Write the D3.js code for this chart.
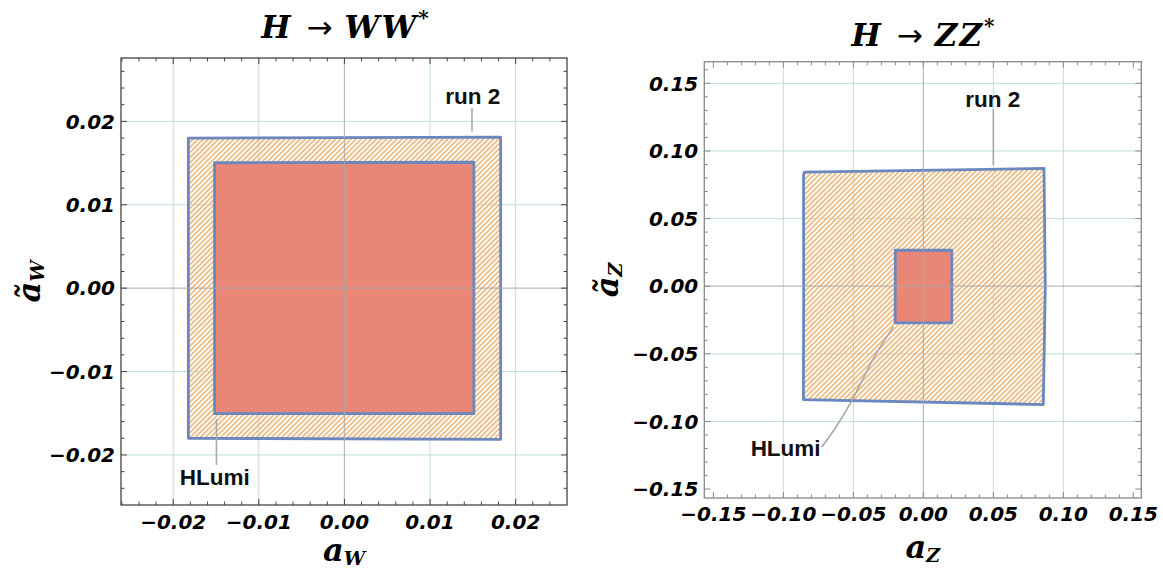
<!DOCTYPE html>
<html lang="en">
<head>
<meta charset="UTF-8">
<title>H to WW* / ZZ* bounds</title>
<script src="https://d3js.org/d3.v7.min.js"></script>
<style>
  body { margin: 0; background: #fff; }
  .tick-label { font-family: "DejaVu Sans", sans-serif; font-weight: bold; font-style: italic; font-size: 20px; fill: #000; }
  .note { font-family: "Liberation Sans", Arial, sans-serif; font-weight: bold; font-size: 22.5px; fill: #111; }
  .math { font-family: "DejaVu Serif", serif; font-weight: bold; font-style: italic; fill: #000; }
</style>
</head>
<body>
<svg id="chart" width="1163" height="573"></svg>
<script>
// ---- data ----
// H -> WW* panel
const wwTicks = [-0.02, -0.01, 0.00, 0.01, 0.02];
const wwTickLabels = ["\u22120.02", "\u22120.01", "0.00", "0.01", "0.02"];
const wwGrid = [-0.02, -0.01, 0.01, 0.02];
const wwRun2 = [[-0.01823, 0.01800], [0.01825, 0.01812], [0.01825, -0.01812], [-0.01823, -0.01800]];
const wwHLumi = [[-0.01517, 0.01504], [0.01512, 0.01510], [0.01512, -0.01505], [-0.01517, -0.01505]];
const wwRun2Label = { text: "run 2", at: [0.0150, 0.0230], leader: [[0.0149, 0.0216], [0.0149, 0.0188]] };
const wwHLumiLabel = { text: "HLumi", at: [-0.01515, -0.0226], leader: [[-0.01495, -0.0157], [-0.01495, -0.0212]] };

// H -> ZZ* panel
const zzTicks = [-0.15, -0.10, -0.05, 0.00, 0.05, 0.10, 0.15];
const zzTickLabels = ["\u22120.15", "\u22120.10", "\u22120.05", "0.00", "0.05", "0.10", "0.15"];
const zzGridX = [-0.10, -0.05, 0.05, 0.10];
const zzGridY = [0.15, 0.10, 0.05, -0.05, -0.10];
const zzRun2 = [[-0.0850, 0.0844], [0.0862, 0.0871], [0.0871, 0.0000], [0.0857, -0.0875], [-0.0857, -0.0838], [-0.0855, 0.0000], [-0.0856, 0.0820]];
const zzHLumi = [[-0.0200, 0.0266], [0.0203, 0.0266], [0.0203, -0.0271], [-0.0202, -0.0271]];
const zzRun2Label = { text: "run 2", at: [0.0496, 0.1383], leader: [[0.0500, 0.1310], [0.0500, 0.0895]] };
const zzHLumiLabel = { text: "HLumi", at: [-0.0984, -0.1193],
  leader: [[-0.0726, -0.1189], [-0.0645, -0.1078], [-0.0502, -0.0843], [-0.0360, -0.0523], [-0.0214, -0.0301]] };

const svg = d3.select("#chart");

// hatch for the run 2 region
const defs = svg.append("defs");
const pat = defs.append("pattern")
  .attr("id", "hatch")
  .attr("patternUnits", "userSpaceOnUse")
  .attr("width", 3.6).attr("height", 3.6)
  .attr("patternTransform", "rotate(45)");
pat.append("line")
  .attr("x1", 0.9).attr("y1", 0).attr("x2", 0.9).attr("y2", 3.6)
  .attr("stroke", "#ecbd86").attr("stroke-width", 1.9);

const green = "#bfe0cd", zeroGray = "#a9a9a9", blue = "#6b87bf", salmon = "#e88678";

function panel(cfg) {
  const x = d3.scaleLinear().domain(cfg.xDom).range(cfg.xRange);
  const y = d3.scaleLinear().domain(cfg.yDom).range(cfg.yRange);
  const g = svg.append("g");
  const [x0, x1] = cfg.xRange, [y1, y0] = cfg.yRange;

  // grid lines
  g.selectAll(".gx").data(cfg.gridX).enter().append("line")
    .attr("x1", d => x(d)).attr("x2", d => x(d)).attr("y1", y0).attr("y2", y1)
    .attr("stroke", green).attr("stroke-width", 1);
  g.selectAll(".gy").data(cfg.gridY).enter().append("line")
    .attr("x1", x0).attr("x2", x1).attr("y1", d => y(d)).attr("y2", d => y(d))
    .attr("stroke", green).attr("stroke-width", 1);

  // regions
  const line = d3.line().x(d => x(d[0])).y(d => y(d[1])).curve(d3.curveLinearClosed);
  g.append("path").attr("d", line(cfg.run2))
    .attr("fill", "url(#hatch)").attr("stroke", blue).attr("stroke-width", 2.8)
    .attr("stroke-linejoin", "round");
  g.append("path").attr("d", line(cfg.hlumi))
    .attr("fill", salmon).attr("stroke", blue).attr("stroke-width", 2.8)
    .attr("stroke-linejoin", "round");

  // zero lines on top
  g.append("line").attr("x1", x(0)).attr("x2", x(0)).attr("y1", y0).attr("y2", y1)
    .attr("stroke", zeroGray).attr("stroke-width", 1.2).attr("opacity", 0.8);
  g.append("line").attr("x1", x0).attr("x2", x1).attr("y1", y(0)).attr("y2", y(0))
    .attr("stroke", zeroGray).attr("stroke-width", 1.2).attr("opacity", 0.8);

  // frame with inward ticks on all sides
  g.append("rect").attr("x", x0).attr("y", y0).attr("width", x1 - x0).attr("height", y1 - y0)
    .attr("fill", "none").attr("stroke", cfg.frame).attr("stroke-width", 1.3);
  const minorX = d3.range(cfg.minorStart, cfg.xDom[1], cfg.minorStep).filter(v => v > cfg.xDom[0]);
  const minorY = d3.range(cfg.minorStart, cfg.yDom[1], cfg.minorStep).filter(v => v > cfg.yDom[0]);
  const isMajor = v => Math.abs(v / cfg.majorStep - Math.round(v / cfg.majorStep)) < 1e-6;
  const tk = g.append("g").attr("stroke", cfg.frame).attr("stroke-width", 1);
  minorX.forEach(v => {
    const len = isMajor(v) ? 6 : 3.5;
    tk.append("line").attr("x1", x(v)).attr("x2", x(v)).attr("y1", y1).attr("y2", y1 - len);
    tk.append("line").attr("x1", x(v)).attr("x2", x(v)).attr("y1", y0).attr("y2", y0 + len);
  });
  minorY.forEach(v => {
    const len = isMajor(v) ? 6 : 3.5;
    tk.append("line").attr("x1", x0).attr("x2", x0 + len).attr("y1", y(v)).attr("y2", y(v));
    tk.append("line").attr("x1", x1).attr("x2", x1 - len).attr("y1", y(v)).attr("y2", y(v));
  });

  // tick labels
  g.selectAll(".xl").data(cfg.ticks).enter().append("text")
    .attr("class", "tick-label").attr("text-anchor", "middle")
    .attr("x", d => x(d)).attr("y", y1 + cfg.xLabelOff)
    .text((d, i) => cfg.tickLabels[i]);
  g.selectAll(".yl").data(cfg.ticks).enter().append("text")
    .attr("class", "tick-label").attr("text-anchor", "end")
    .attr("x", x0 - 6).attr("y", d => y(d)).attr("dy", "0.36em")
    .text((d, i) => cfg.tickLabels[i]);

  // annotations
  const lead = d3.line().x(d => x(d[0])).y(d => y(d[1])).curve(d3.curveBasis);
  [cfg.run2Label, cfg.hlumiLabel].forEach(a => {
    g.append("path").attr("d", lead(a.leader)).attr("fill", "none")
      .attr("stroke", "#a8a8a8").attr("stroke-width", 1.6);
    g.append("text").attr("class", "note").attr("text-anchor", "middle")
      .attr("x", x(a.at[0])).attr("y", y(a.at[1])).attr("dy", "0.36em").text(a.text);
  });

  // title
  const t = g.append("text").attr("class", "math").attr("font-size", 31)
    .attr("text-anchor", "middle").attr("x", cfg.titleX).attr("y", cfg.titleY);
  t.append("tspan").text("H");
  t.append("tspan").attr("dx", 16).attr("font-style", "normal").attr("font-weight", "normal")
    .attr("font-family", "DejaVu Sans").text("\u2192");
  t.append("tspan").attr("dx", 12).attr("letter-spacing", 2).text(cfg.boson + cfg.boson);
  t.append("tspan").attr("dy", -13).attr("font-size", 20).attr("font-style", "normal").text("*");

  // axis titles
  const xt = g.append("text").attr("class", "math").attr("font-size", 32)
    .attr("text-anchor", "middle").attr("x", (x0 + x1) / 2).attr("y", cfg.xTitleY);
  xt.append("tspan").text("a");
  xt.append("tspan").attr("font-size", 19).attr("dy", 4).text(cfg.boson);
  const yt = g.append("text").attr("class", "math").attr("font-size", 32)
    .attr("text-anchor", "middle")
    .attr("transform", `translate(${cfg.yTitleX},${(y0 + y1) / 2}) rotate(-90)`);
  yt.append("tspan").text("\u00e3");
  yt.append("tspan").attr("font-size", 19).attr("dy", 4).text(cfg.boson);
}

panel({
  xDom: [-0.0261, 0.0260], xRange: [121, 567],
  yDom: [-0.0260, 0.0276], yRange: [505, 58],
  ticks: wwTicks, tickLabels: wwTickLabels, gridX: wwGrid, gridY: wwGrid,
  majorStep: 0.01, minorStep: 0.002, minorStart: -0.026,
  run2: wwRun2, hlumi: wwHLumi, run2Label: wwRun2Label, hlumiLabel: wwHLumiLabel,
  frame: "#444", xLabelOff: 24,
  boson: "W", titleX: 345, titleY: 38, xTitleY: 561, yTitleX: 40
});

panel({
  xDom: [-0.1565, 0.1557], xRange: [704.3, 1141.3],
  yDom: [-0.1566, 0.1660], yRange: [498, 61.7],
  ticks: zzTicks, tickLabels: zzTickLabels, gridX: zzGridX, gridY: zzGridY,
  majorStep: 0.05, minorStep: 0.01, minorStart: -0.15,
  run2: zzRun2, hlumi: zzHLumi, run2Label: zzRun2Label, hlumiLabel: zzHLumiLabel,
  frame: "#888", xLabelOff: 23,
  boson: "Z", titleX: 923, titleY: 46, xTitleY: 558, yTitleX: 618
});
</script>
</body>
</html>
